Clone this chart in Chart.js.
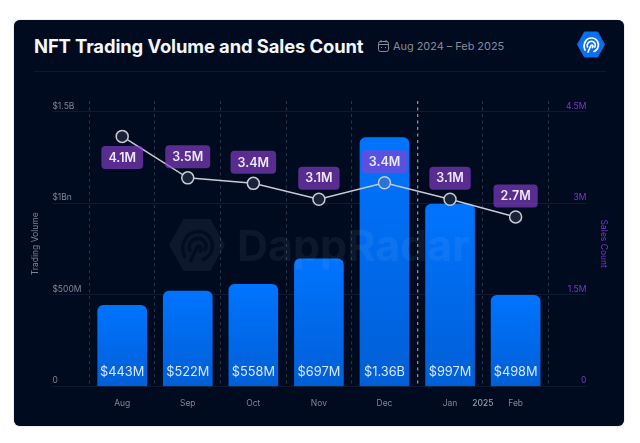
<!DOCTYPE html>
<html>
<head>
<meta charset="utf-8">
<title>NFT Trading Volume and Sales Count</title>
<script src="https://cdn.jsdelivr.net/npm/chart.js@4"></script>
<style>
html, body { margin: 0; padding: 0; background: #fff; }
body { width: 640px; height: 443px; position: relative; overflow: hidden; font-family: Inter, sans-serif; }
#card { position: absolute; left: 14px; top: 20px; width: 610px; height: 406px; background: #000b20; border-radius: 6px; box-shadow: 0 0 1px #5a6070; }
#title { position: absolute; left: 34px; top: 33px; font-size: 18.4px; line-height: 26px; font-weight: 700; color: #f4f6f9; white-space: nowrap; letter-spacing: -0.1px; }
#date { position: absolute; left: 393px; top: 37px; font-size: 10.9px; line-height: 18px; color: #878e9b; white-space: nowrap; }
#cal { position: absolute; left: 378px; top: 40px; }
#logo { position: absolute; left: 577px; top: 31px; }
#rule { position: absolute; left: 34px; top: 71px; width: 572px; height: 1px; background: #0c1830; }
#chart { position: absolute; left: 0; top: 0; }
#mark { position: absolute; left: 168px; top: 217px; pointer-events: none; }
#markText { position: absolute; left: 237px; top: 217px; font-size: 43px; line-height: 56px; font-weight: 700; color: rgba(255,255,255,0.055); pointer-events: none; white-space: nowrap; }
</style>
</head>
<body>
<div id="card"></div>
<div id="title">NFT Trading Volume and Sales Count</div>
<svg id="cal" width="11" height="12" viewBox="0 0 11 12" fill="none" stroke="#878e9b" stroke-width="1">
  <rect x="0.5" y="1.5" width="10" height="10" rx="2"/>
  <path d="M0.5 4.5H10.5M3 0V2.5M8 0V2.5"/>
  <path d="M3 7.5h1M7 7.5h1"/>
</svg>
<div id="date">Aug 2024 – Feb 2025</div>
<svg id="logo" width="28" height="27" viewBox="0 0 28 27" fill="none">
  <path d="M7.5 1H20.5L27.5 13.5L20.5 26H7.5L0.5 13.5Z" fill="#0a70f0" stroke="#0a70f0" stroke-linejoin="round"/>
  <g stroke="#fff" stroke-width="1.7" stroke-linecap="round">
    <path d="M8 19C5.5 13 9 7 14.5 7C20 7 23 12.5 20.5 17.5C19.7 19 18.5 20 17 20.5"/>
    <path d="M10.5 16C9.5 13 11.5 10.3 14.5 10.3C17.5 10.3 19.3 13.5 17.8 16"/>
    <path d="M11 21L14 14.5C15.5 13.2 16.5 15 15.5 16.5"/>
  </g>
</svg>
<div id="rule"></div>
<canvas id="chart" width="640" height="443"></canvas>
<svg id="mark" width="58" height="56" viewBox="0 0 28 27" fill="none">
  <path d="M7.5 1H20.5L27.5 13.5L20.5 26H7.5L0.5 13.5Z" fill="rgba(255,255,255,0.055)"/>
  <g stroke="#000b20" stroke-opacity="0.75" stroke-width="1.7" stroke-linecap="round">
    <path d="M8 19C5.5 13 9 7 14.5 7C20 7 23 12.5 20.5 17.5C19.7 19 18.5 20 17 20.5"/>
    <path d="M10.5 16C9.5 13 11.5 10.3 14.5 10.3C17.5 10.3 19.3 13.5 17.8 16"/>
    <path d="M11 21L14 14.5C15.5 13.2 16.5 15 15.5 16.5"/>
  </g>
</svg>
<div id="markText">DappRadar</div>
<script>
const months = ['Aug', 'Sep', 'Oct', 'Nov', 'Dec', 'Jan', 'Feb'];
const volume = [443e6, 522e6, 558e6, 697e6, 1360e6, 997e6, 498e6];
const volumeLabels = ['$443M', '$522M', '$558M', '$697M', '$1.36B', '$997M', '$498M'];
const sales = [4.1e6, 3.42e6, 3.33e6, 3.07e6, 3.34e6, 3.07e6, 2.78e6];
const salesLabels = ['4.1M', '3.5M', '3.4M', '3.1M', '3.4M', '3.1M', '2.7M'];
const volumeTicks = [0, 5e8, 1e9, 1.5e9];
const volumeTickLabels = ['0', '$500M', '$1Bn', '$1.5B'];
const salesTicks = [0, 1.5e6, 3e6, 4.5e6];
const salesTickLabels = ['0', '1.5M', '3M', '4.5M'];

const gridColor = '#0e1a31';

function fixTicks(values) {
    return (scale) => {
        scale.ticks = values.map((v) => ({ value: v }));
    };
}

// labels inside the bars, purple pills above the points, the year marker
const labelsPlugin = {
    id: 'labels',
    afterDatasetsDraw(chart) {
        const ctx = chart.ctx;
        const bars = chart.getDatasetMeta(0).data;
        const points = chart.getDatasetMeta(1).data;

        ctx.save();
        ctx.textAlign = 'center';
        ctx.textBaseline = 'middle';
        ctx.font = '400 12.8px Inter';
        ctx.fillStyle = '#d9e7ff';
        bars.forEach((bar, i) => {
            ctx.fillText(volumeLabels[i], bar.x, bar.base - 13.5);
        });

        ctx.font = '600 12.5px Inter';
        points.forEach((pt, i) => {
            const w = ctx.measureText(salesLabels[i]).width + 14;
            const cy = pt.y + (i === 0 ? 21 : -21);
            ctx.fillStyle = 'rgba(140,64,208,0.64)';
            ctx.beginPath();
            ctx.roundRect(pt.x - w / 2, cy - 11.5, w, 23, 4);
            ctx.fill();
            ctx.fillStyle = '#eee8f8';
            ctx.fillText(salesLabels[i], pt.x, cy + 0.5);
        });

        const x = chart.scales.x;
        ctx.font = '500 8.5px Inter';
        ctx.fillStyle = '#989ea9';
        ctx.fillText('2025', (x.getPixelForValue(5) + x.getPixelForValue(6)) / 2, 403);
        ctx.restore();
    }
};

const ctx = document.getElementById('chart').getContext('2d');
Chart.defaults.font.family = 'Inter';

new Chart(ctx, {
    data: {
        labels: months,
        datasets: [{
            type: 'bar',
            data: volume,
            yAxisID: 'y',
            order: 2,
            barThickness: 49,
            borderRadius: { topLeft: 6, topRight: 6 },
            borderSkipped: 'bottom',
            backgroundColor: (c) => {
                const area = c.chart.chartArea;
                if (!area || c.raw === undefined) return '#0068ea';
                const top = c.chart.scales.y.getPixelForValue(c.raw);
                const g = c.chart.ctx.createLinearGradient(0, top, 0, area.bottom);
                g.addColorStop(0, '#0074ff');
                g.addColorStop(1, '#005fd6');
                return g;
            }
        }, {
            type: 'line',
            data: sales,
            yAxisID: 'y1',
            order: 1,
            tension: 0,
            borderColor: '#c6cbd3',
            borderWidth: 1.5,
            pointRadius: 6,
            pointBorderWidth: 1.5,
            pointBorderColor: '#c6cbd3',
            pointBackgroundColor: ['#182339', '#182339', '#182339', '#182339', '#2a74d6', '#182339', '#182339']
        }]
    },
    options: {
        responsive: false,
        animation: false,
        layout: { padding: { left: 52.4, right: 53.6, top: 101, bottom: 26.5 } },
        plugins: {
            legend: { display: false },
            tooltip: { enabled: false }
        },
        scales: {
            x: {
                afterFit: (s) => { s.height = 30; },
                border: { display: false, dash: [3, 3.5] },
                grid: {
                    offset: true,
                    drawTicks: false,
                    color: (c) => (c.index === 5 ? '#8a909c' : '#2a3346'),
                    lineWidth: (c) => (c.index === 5 ? 1.3 : 1)
                },
                ticks: { color: '#7f8693', font: { size: 8.5 }, padding: 12, maxRotation: 0 }
            },
            y: {
                position: 'left',
                min: 0,
                max: 1.56e9,
                afterBuildTicks: fixTicks(volumeTicks),
                afterFit: (s) => { s.width = 37; },
                border: { display: false },
                grid: { color: gridColor, tickLength: 37 },
                ticks: {
                    crossAlign: 'far',
                    padding: 0,
                    labelOffset: -6,
                    color: '#7f8693',
                    font: { size: 8.5 },
                    callback: (v, i) => volumeTickLabels[i]
                },
                title: { display: true, text: 'Trading Volume', color: '#7f8693', font: { size: 8.5 }, padding: { top: -22 } }
            },
            y1: {
                position: 'right',
                min: 0,
                max: 4.68e6,
                afterBuildTicks: fixTicks(salesTicks),
                afterFit: (s) => { s.width = 38; },
                border: { display: false },
                grid: { drawOnChartArea: false, color: gridColor, tickLength: 38 },
                ticks: {
                    crossAlign: 'far',
                    padding: 0,
                    labelOffset: -6,
                    color: '#7a38c4',
                    font: { size: 8.5 },
                    callback: (v, i) => salesTickLabels[i]
                },
                title: { display: true, text: 'Sales Count', color: '#7a38c4', font: { size: 8.5 }, padding: { top: -22 } }
            }
        }
    },
    plugins: [labelsPlugin]
});
</script>
</body>
</html>
